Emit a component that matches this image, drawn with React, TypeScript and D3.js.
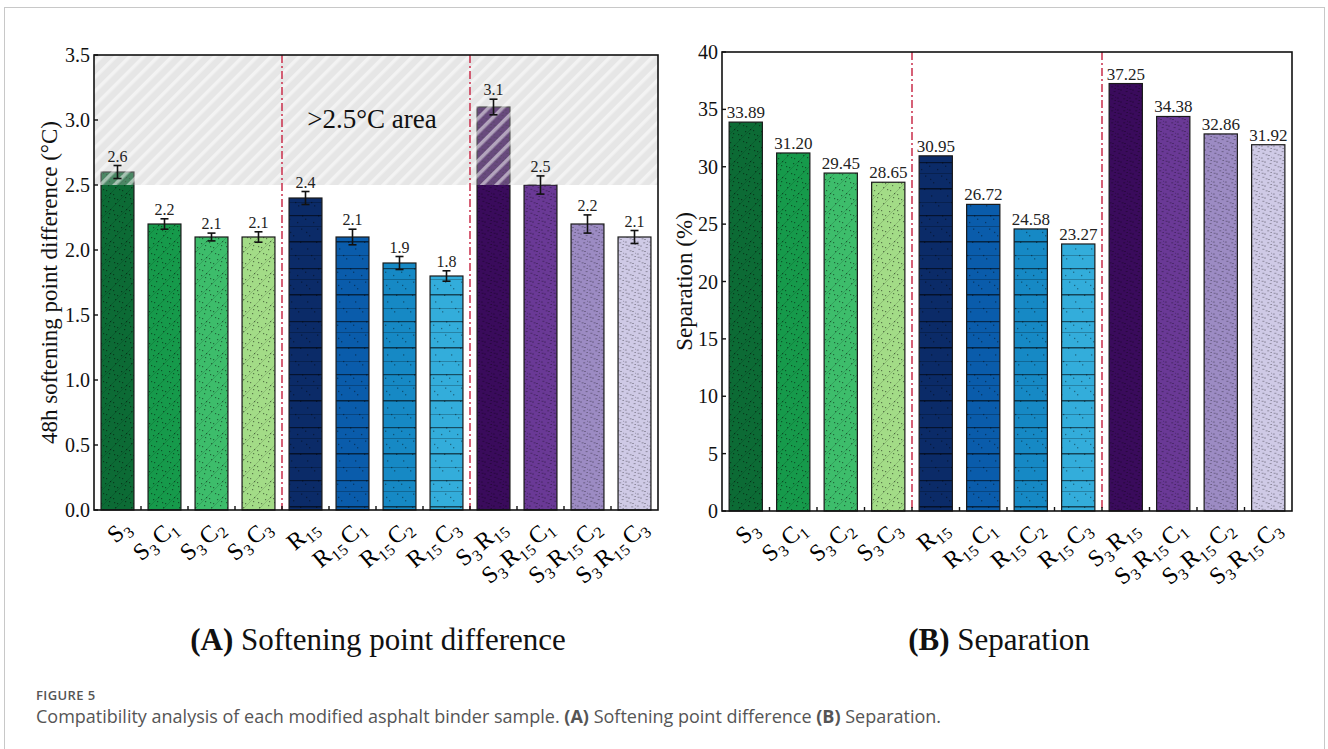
import React from "react";
import * as d3 from "d3";

// ---------- data ----------
const categories: string[][][] = [
  [["S", "3"]],
  [["S", "3"], ["C", "1"]],
  [["S", "3"], ["C", "2"]],
  [["S", "3"], ["C", "3"]],
  [["R", "15"]],
  [["R", "15"], ["C", "1"]],
  [["R", "15"], ["C", "2"]],
  [["R", "15"], ["C", "3"]],
  [["S", "3"], ["R", "15"]],
  [["S", "3"], ["R", "15"], ["C", "1"]],
  [["S", "3"], ["R", "15"], ["C", "2"]],
  [["S", "3"], ["R", "15"], ["C", "3"]],
];
const softening = [2.6, 2.2, 2.1, 2.1, 2.4, 2.1, 1.9, 1.8, 3.1, 2.5, 2.2, 2.1];
const softeningErr = [0.05, 0.04, 0.03, 0.04, 0.05, 0.06, 0.05, 0.04, 0.06, 0.07, 0.07, 0.05];
const softeningLabels = ["2.6", "2.2", "2.1", "2.1", "2.4", "2.1", "1.9", "1.8", "3.1", "2.5", "2.2", "2.1"];
const separation = [33.89, 31.2, 29.45, 28.65, 30.95, 26.72, 24.58, 23.27, 37.25, 34.38, 32.86, 31.92];
const separationLabels = ["33.89", "31.20", "29.45", "28.65", "30.95", "26.72", "24.58", "23.27", "37.25", "34.38", "32.86", "31.92"];
const softeningTicks = [0, 0.5, 1, 1.5, 2, 2.5, 3, 3.5];
const separationTicks = [0, 5, 10, 15, 20, 25, 30, 35, 40];
const barColors = [
  "#0c6b35", "#169a4b", "#3dbd6b", "#a3dc87",
  "#0b2b68", "#0a5cab", "#1689c5", "#33addb",
  "#3a0b5c", "#6a3996", "#9c8bc3", "#cfcae6",
];
const textures = ["g", "g", "g", "g", "b", "b", "b", "b", "p", "p", "p", "p"];
const groupDividers = [4, 8];
const thresholdValue = 2.5;

const SERIF = "'Liberation Serif', 'Times New Roman', serif";
const RED = "#cc3a55";

type PanelProps = {
  x0: number; x1: number; yTop: number; yBot: number;
  domainMax: number; values: number[]; errs?: number[]; labels: string[];
  ticks: number[]; tickFmt: (v: number) => string; tickFont: number;
  yLabel: string; yLabelX: number; labelFont: number; valueFont: number;
  threshold?: number; idp: string;
};

function CatLabel({ parts, x, y }: { parts: string[][]; x: number; y: number }) {
  return (
    <text
      transform={`translate(${x},${y}) rotate(-40)`}
      textAnchor="end"
      fontFamily={SERIF}
      fontSize={24}
      letterSpacing={0.5}
      fill="#000"
    >
      {parts.map((p, i) => (
        <React.Fragment key={i}>
          <tspan>{p[0]}</tspan>
          <tspan fontSize={16} dy={5}>{p[1]}</tspan>
          <tspan dy={-5}>{"\u200A"}</tspan>
        </React.Fragment>
      ))}
    </text>
  );
}

function Panel(props: PanelProps) {
  const { x0, x1, yTop, yBot, domainMax, values, errs, labels, ticks, tickFmt, tickFont, yLabel, yLabelX, labelFont, valueFont, threshold, idp } = props;
  const idx = values.map((_, i) => String(i));
  const x = d3.scaleBand<string>().domain(idx).range([x0, x1]).paddingInner(0.3).paddingOuter(0.15);
  const y = d3.scaleLinear().domain([0, domainMax]).range([yBot, yTop]);
  const step = x.step();
  const bw = x.bandwidth();
  return (
    <g>
      {values.map((v, i) => {
        const bx = x(String(i))!;
        return (
          <g key={i}>
            <rect x={bx} y={y(v)} width={bw} height={yBot - y(v)} fill={barColors[i]} />
            <rect x={bx} y={y(v)} width={bw} height={yBot - y(v)} fill={`url(#tex-${textures[i]})`} />
            <rect x={bx} y={y(v)} width={bw} height={yBot - y(v)} fill="none" stroke="#1a1a1a" strokeWidth={1.2} />
          </g>
        );
      })}
      {threshold !== undefined && (
        <g>
          <rect x={x0} y={yTop} width={x1 - x0} height={y(threshold) - yTop} fill="rgba(185,185,185,0.36)" />
          <rect x={x0} y={yTop} width={x1 - x0} height={y(threshold) - yTop} fill={`url(#hatch-${idp})`} />
          <text x={x0 + 6 * step - 4} y={128} textAnchor="middle" fontFamily={SERIF} fontSize={27} fill="#111">
            {">2.5°C area"}
          </text>
        </g>
      )}
      {groupDividers.map((g) => (
        <line key={g} x1={x0 + g * step} x2={x0 + g * step} y1={yTop} y2={yBot}
          stroke={RED} strokeWidth={1.6} strokeDasharray="8,3,2,3" />
      ))}
      {values.map((v, i) => {
        const cx = x(String(i))! + bw / 2;
        const e = errs ? errs[i] : 0;
        const topY = y(v + e);
        return (
          <g key={"e" + i}>
            {errs && (
              <g stroke="#111" strokeWidth={1.6}>
                <line x1={cx} x2={cx} y1={y(v + e)} y2={y(v - e)} />
                <line x1={cx - 4} x2={cx + 4} y1={y(v + e)} y2={y(v + e)} />
                <line x1={cx - 4} x2={cx + 4} y1={y(v - e)} y2={y(v - e)} />
              </g>
            )}
            <text x={cx} y={topY - 4} textAnchor="middle" fontFamily={SERIF} fontSize={valueFont} fill="#222">
              {labels[i]}
            </text>
          </g>
        );
      })}
      <rect x={x0} y={yTop} width={x1 - x0} height={yBot - yTop} fill="none" stroke="#111" strokeWidth={1.6} />
      {ticks.map((t) => (
        <g key={t}>
          <line x1={x0} x2={x0 + 4} y1={y(t)} y2={y(t)} stroke="#111" strokeWidth={1.4} />
          <text x={x0 - 4} y={y(t)} dy="0.35em" textAnchor="end" fontFamily={SERIF} fontSize={tickFont} fill="#111">
            {tickFmt(t)}
          </text>
        </g>
      ))}
      {d3.range(1, values.length).map((k) => (
        <line key={k} x1={x0 + k * step} x2={x0 + k * step} y1={yBot} y2={yBot - 4} stroke="#111" strokeWidth={1.4} />
      ))}
      {categories.map((parts, i) => (
        <CatLabel key={i} parts={parts} x={x(String(i))! + bw / 2 + 17} y={yBot + 18} />
      ))}
      <text transform={`translate(${yLabelX},${(yTop + yBot) / 2}) rotate(-90)`} textAnchor="middle"
        fontFamily={SERIF} fontSize={labelFont} fill="#111">
        {yLabel}
      </text>
    </g>
  );
}

export default function App() {
  const dots = [
    [1, 2], [5, 7], [9, 3], [3, 11], [12, 9], [7, 13], [14, 1], [10, 14], [2, 6], [13, 5],
  ];
  return (
    <svg width={1328} height={749} style={{ position: "absolute", left: 0, top: 0, background: "#fff" }}>
      <defs>
        <pattern id="hatch-a" width={10} height={10} patternUnits="userSpaceOnUse" patternTransform="rotate(45)">
          <rect x={0} y={0} width={3.5} height={10} fill="rgba(255,255,255,0.5)" />
        </pattern>
        <pattern id="tex-g" width={16} height={16} patternUnits="userSpaceOnUse">
          {dots.map((d, i) => <rect key={i} x={d[0]} y={d[1]} width={1.2} height={1.2} fill="rgba(0,0,0,0.45)" />)}
          <path d="M0,16 L16,0 M-4,4 L4,-4 M12,20 L20,12" stroke="rgba(0,0,0,0.18)" strokeWidth={0.8} />
        </pattern>
        <pattern id="tex-b" width={16} height={53} patternUnits="userSpaceOnUse">
          <rect x={0} y={3} width={16} height={1.2} fill="rgba(0,0,0,0.55)" />
          <rect x={0} y={14} width={16} height={0.8} fill="rgba(0,0,0,0.3)" />
          <rect x={0} y={29} width={16} height={1.5} fill="rgba(0,0,0,0.6)" />
          <rect x={0} y={43} width={16} height={0.8} fill="rgba(0,0,0,0.3)" />
          {dots.map((d, i) => <rect key={i} x={d[0]} y={d[1] * 3.3} width={1.3} height={1.3} fill="rgba(0,0,0,0.4)" />)}
        </pattern>
        <pattern id="tex-p" width={12} height={12} patternUnits="userSpaceOnUse">
          {dots.map((d, i) => <rect key={i} x={d[0] * 0.8} y={d[1] * 0.8} width={2} height={0.9} fill="rgba(0,0,0,0.35)" />)}
        </pattern>
      </defs>
      <rect x={4.5} y={7.5} width={1320} height={760} fill="none" stroke="#c8c8c8" strokeWidth={1} />

      <Panel
        idp="a" x0={94} x1={658} yTop={55} yBot={510} domainMax={3.5}
        values={softening} errs={softeningErr} labels={softeningLabels}
        ticks={softeningTicks} tickFmt={(v) => v.toFixed(1)} tickFont={20}
        yLabel="48h softening point difference (°C)" yLabelX={57} labelFont={23} valueFont={16}
        threshold={thresholdValue}
      />
      <Panel
        idp="b" x0={722} x1={1292} yTop={52} yBot={511} domainMax={40}
        values={separation} labels={separationLabels}
        ticks={separationTicks} tickFmt={(v) => String(v)} tickFont={20}
        yLabel="Separation (%)" yLabelX={692} labelFont={23} valueFont={17}
      />

      <text x={378} y={650} textAnchor="middle" fontFamily={SERIF} fontSize={31} fill="#111">
        <tspan fontWeight="bold">(A)</tspan> Softening point difference
      </text>
      <text x={999} y={650} textAnchor="middle" fontFamily={SERIF} fontSize={31} fill="#111">
        <tspan fontWeight="bold">(B)</tspan> Separation
      </text>

      <text x={36} y={700} fontFamily="'Open Sans', sans-serif" fontSize={13} fontWeight={600} letterSpacing={0.4} fill="#555">
        FIGURE 5
      </text>
      <text x={36} y={723} fontFamily="'Open Sans', sans-serif" fontSize={18} fill="#555">
        Compatibility analysis of each modified asphalt binder sample. <tspan fontWeight={700}>(A)</tspan> Softening point difference <tspan fontWeight={700}>(B)</tspan> Separation.
      </text>
    </svg>
  );
}
